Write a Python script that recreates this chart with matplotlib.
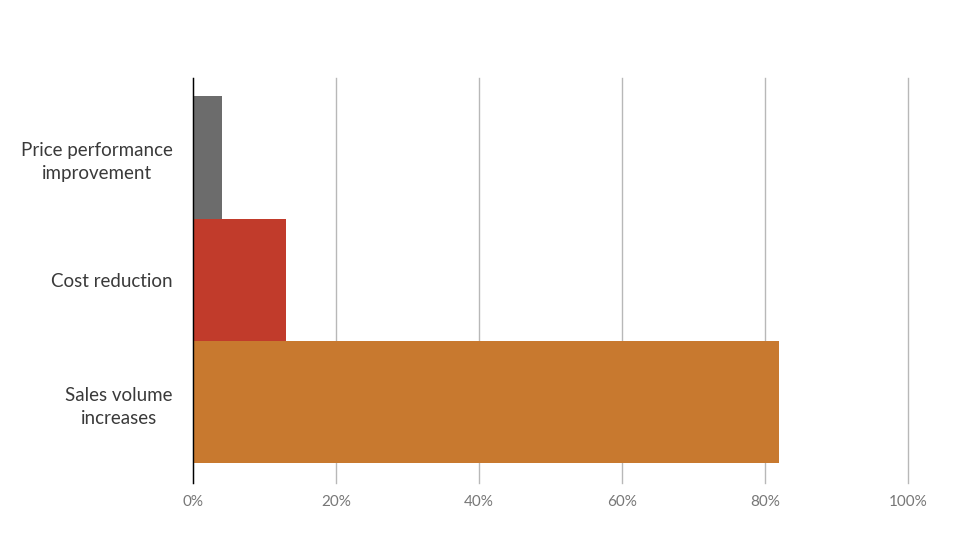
import matplotlib
matplotlib.use("Agg")
import matplotlib.pyplot as plt

# data
categories = ["Sales volume\nincreases", "Cost reduction", "Price performance\nimprovement"]
shares = [82, 13, 4]
bar_colors = ["#c8792f", "#c13b2b", "#6c6c6c"]
tick_values = [0, 20, 40, 60, 80, 100]
tick_labels = ["0%", "20%", "40%", "60%", "80%", "100%"]

plt.rcParams["font.family"] = ["Lato", "DejaVu Sans"]

fig = plt.figure(figsize=(9.79, 5.40), dpi=100)
ax = fig.add_axes([0.1975, 0.1056, 0.7297, 0.75])

ax.barh(range(len(categories)), shares, height=1.0, color=bar_colors, zorder=2)

ax.set_xlim(0, 100)
ax.set_ylim(-0.66, 2.65)
ax.set_xticks(tick_values)
ax.set_xticklabels(tick_labels, fontsize=11, color="#777777")
ax.set_yticks(range(len(categories)))
ax.set_yticklabels(categories, fontsize=13.5, color="#3a3a3a",
                   multialignment="center", linespacing=1.45)
ax.tick_params(axis="y", length=0, pad=15)
ax.tick_params(axis="x", length=0, pad=9)

ax.grid(axis="x", color="#b8b8b8", linewidth=1.0, zorder=0)
for gl in ax.get_xgridlines():
    gl.set_clip_on(False)
for side in ["top", "right", "bottom"]:
    ax.spines[side].set_visible(False)
ax.spines["left"].set_color("black")
ax.spines["left"].set_linewidth(1.0)
ax.spines["left"].set_zorder(3)

fig.savefig("out.png", dpi=100)
